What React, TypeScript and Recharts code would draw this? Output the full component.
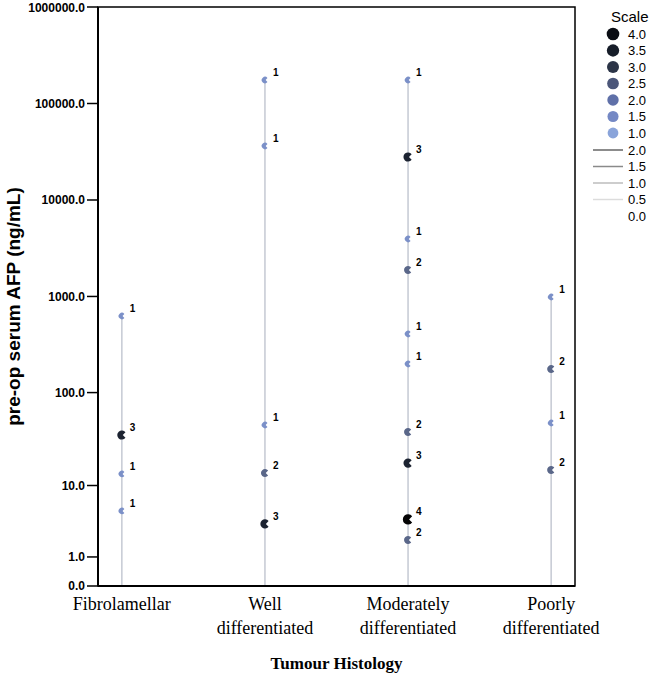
import React from 'react';
import { ScatterChart, Scatter, XAxis, YAxis, ReferenceLine, ReferenceArea } from 'recharts';

// categories on the x axis (two-line labels)
const categories = ['Fibrolamellar', 'Well differentiated', 'Moderately differentiated', 'Poorly differentiated'];
const categoryLines = [['Fibrolamellar'], ['Well', 'differentiated'], ['Moderately', 'differentiated'], ['Poorly', 'differentiated']];

// pre-op serum AFP (ng/mL) per patient group and number of cases at that value
const fibroAfp = [627, 35.7, 13.5, 5.0];
const fibroN = [1, 3, 1, 1];
const wellAfp = [175000, 36300, 45.6, 13.8, 3.4];
const wellN = [1, 1, 1, 2, 3];
const moderateAfp = [175000, 27900, 3945, 1882, 408, 199, 38.4, 17.8, 3.9, 2.0];
const moderateN = [1, 3, 1, 2, 1, 1, 2, 3, 4, 2];
const poorAfp = [987, 176, 47.9, 14.9];
const poorN = [1, 2, 1, 2];

const yTickValues = [0, 1, 10, 100, 1000, 10000, 100000, 1000000];

// legend scale
const legendDots = [4.0, 3.5, 3.0, 2.5, 2.0, 1.5, 1.0];
const legendLines = [2.0, 1.5, 1.0, 0.5, 0.0];

const SANS = '"Liberation Sans", Arial, sans-serif';
const SERIF = '"Liberation Serif", "Times New Roman", serif';

const countColor: Record<number, string> = { 1: '#7b90c8', 2: '#5a6789', 3: '#1c2331', 4: '#050505' };
const countRadius: Record<number, number> = { 1: 3.2, 2: 4, 3: 4.6, 4: 5.2 };
const dotColors = ['#0a0d14', '#161d29', '#2b3447', '#4b5679', '#5f70a8', '#7488c4', '#8aa4da'];
const lineColors = ['#666', '#8a8a8a', '#bdbdbd', '#dcdcdc', '#fff'];

const toY = (v: number) => Math.log10(v + 1);
const X_DOMAIN: [number, number] = [-1 / 6, 3 + 1 / 6];

const groups = [
  { afp: fibroAfp, n: fibroN },
  { afp: wellAfp, n: wellN },
  { afp: moderateAfp, n: moderateN },
  { afp: poorAfp, n: poorN },
];

const points = groups.flatMap((g, i) => g.afp.map((v, j) => ({ x: i, y: toY(v), afp: v, count: g.n[j] })));
const ranges = groups.map((g, i) => ({ x: i, top: toY(Math.max(...g.afp)) }));

const PacDot = (props: any) => {
  const { cx, cy, payload } = props;
  if (cx == null || cy == null) return null;
  const c = payload.count;
  const r = countRadius[c];
  const a = (38 * Math.PI) / 180;
  const x1 = cx + r * Math.cos(a);
  const y1 = cy - r * Math.sin(a);
  const y2 = cy + r * Math.sin(a);
  const d = `M${cx + r * 0.2},${cy} L${x1},${y1} A${r},${r} 0 1 0 ${x1},${y2} Z`;
  return (
    <g>
      <path d={d} fill={countColor[c]} />
      <text x={cx + 8} y={cy - 4} fontFamily={SANS} fontSize={10} fontWeight="bold" fill="#000">
        {c}
      </text>
    </g>
  );
};

const CatTick = (props: any) => {
  const { x, y, payload } = props;
  const lines = categoryLines[payload.value];
  if (!lines) return null;
  return (
    <g>
      {lines.map((l, i) => (
        <text key={i} x={x} y={y + 24 + i * 24} textAnchor="middle" fontFamily={SERIF} fontSize={18} fill="#000">
          {l}
        </text>
      ))}
    </g>
  );
};

const YTitle = (props: any) => {
  const vb = props.viewBox;
  const cx = vb.x + 20;
  const cy = vb.y + vb.height / 2 + 10;
  return (
    <text
      transform={`translate(${cx},${cy}) rotate(-90)`}
      textAnchor="middle"
      fontFamily={SANS}
      fontSize={19}
      fontWeight="bold"
      fill="#000"
    >
      pre-op serum AFP (ng/mL)
    </text>
  );
};

const ScaleLegend = () => (
  <svg width={60} height={230} style={{ position: 'absolute', left: 590, top: 0 }}>
    <text x={21} y={22} fontFamily={SANS} fontSize={15} fill="#000">Scale</text>
    {legendDots.map((v, i) => (
      <g key={'d' + i}>
        <circle cx={23} cy={34 + i * 16.5} r={6.3 - i * 0.15} fill={dotColors[i]} />
        <text x={38} y={38.5 + i * 16.5} fontFamily={SANS} fontSize={13} fill="#000">{v.toFixed(1)}</text>
      </g>
    ))}
    {legendLines.map((v, i) => (
      <g key={'l' + i}>
        <line x1={3} x2={33} y1={150 + i * 16.5} y2={150 + i * 16.5} stroke={lineColors[i]} strokeWidth={1.5} />
        <text x={38} y={154.5 + i * 16.5} fontFamily={SANS} fontSize={13} fill="#000">{v.toFixed(1)}</text>
      </g>
    ))}
  </svg>
);

export default function App() {
  return (
    <div style={{ position: 'absolute', left: 0, top: 0, width: 650, height: 681, background: '#fff' }}>
      <ScatterChart width={650} height={681} margin={{ top: 7, right: 75, bottom: 0, left: 0 }}>
        <XAxis
          type="number"
          dataKey="x"
          domain={X_DOMAIN}
          ticks={[0, 1, 2, 3]}
          allowDataOverflow
          height={95}
          tickLine={false}
          tickSize={0}
          tickMargin={0}
          tick={<CatTick />}
          axisLine={{ stroke: '#000', strokeWidth: 2 }}
          label={{
            value: 'Tumour Histology',
            position: 'insideBottom',
            offset: 12,
            style: { fontFamily: SERIF, fontSize: 17, fontWeight: 'bold', fill: '#000' },
          }}
        />
        <YAxis
          type="number"
          dataKey="y"
          domain={[0, 6]}
          ticks={yTickValues.map(toY)}
          allowDataOverflow
          width={98}
          tickSize={11}
          tickMargin={2}
          tickLine={{ stroke: '#000', strokeWidth: 1.5 }}
          axisLine={{ stroke: '#000', strokeWidth: 2 }}
          tick={{ fontFamily: SANS, fontSize: 12, fontWeight: 'bold', fill: '#000' }}
          tickFormatter={(t: number) => (Math.round(Math.pow(10, t) - 1)).toFixed(1)}
          label={{ content: <YTitle /> }}
        />
        {/* plot frame */}
        <ReferenceArea
          x1={X_DOMAIN[0]}
          x2={X_DOMAIN[1]}
          y1={0}
          y2={6}
          fill="none"
          fillOpacity={0}
          stroke="#000"
          strokeWidth={1.5}
          ifOverflow="visible"
        />
        {ranges.map((r) => (
          <ReferenceLine
            key={r.x}
            segment={[{ x: r.x, y: r.top }, { x: r.x, y: 0 }]}
            stroke="#c5c9d3"
            strokeWidth={1.5}
          />
        ))}
        <Scatter data={points} shape={<PacDot />} isAnimationActive={false} />
      </ScatterChart>
      <ScaleLegend />
    </div>
  );
}
